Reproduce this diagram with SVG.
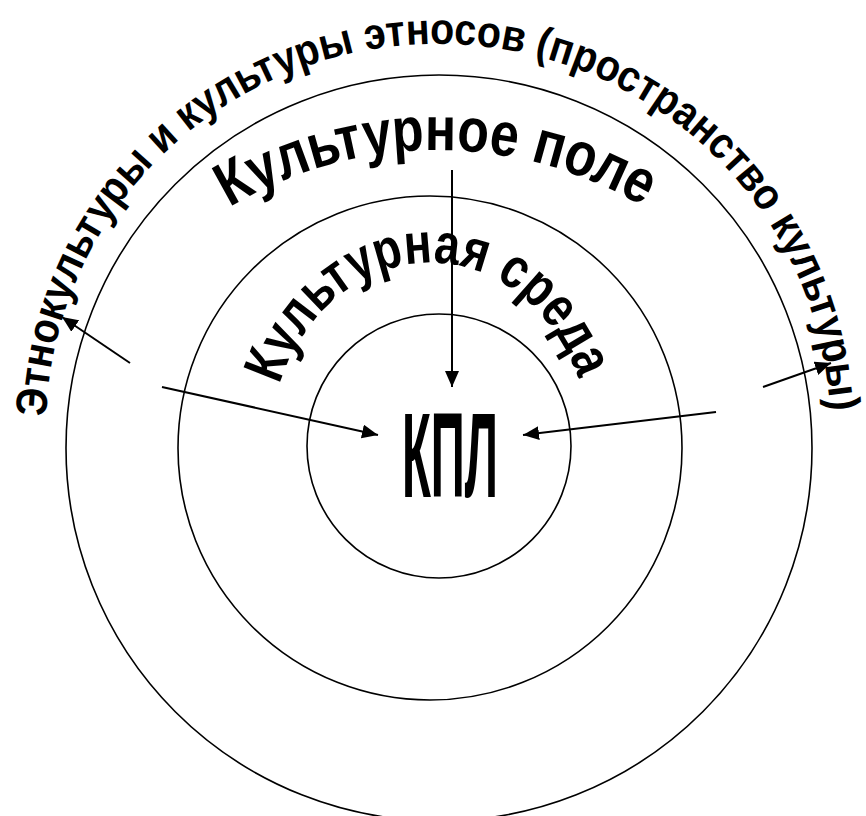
<svg xmlns="http://www.w3.org/2000/svg" width="866" height="816" viewBox="0 0 866 816">
<style>
.ring{fill:none;stroke:#000;stroke-width:1.6}
.lbl{font-family:"Liberation Sans",Arial,sans-serif;font-weight:bold;fill:#000}
.conn{stroke:#000;stroke-width:2;fill:none;marker-end:url(#ah)}
</style>
<defs>
<marker id="ah" viewBox="0 0 16 14" refX="16" refY="7" markerWidth="16" markerHeight="14" markerUnits="userSpaceOnUse" orient="auto">
<path d="M0,0 L16,7 L0,14 z" fill="#000"/>
</marker>
<path id="pOuter" d="M46.2,416.6 A392,385 0 0 1 829.8,416.6"/>
<path id="pField" d="M229.4,207.6 A403,403 0 0 1 644.6,207.6"/>
<path id="pEnv" d="M279.6,384.7 A160,185 0 0 1 580.4,384.7"/>
</defs>
<rect width="866" height="816" fill="#fff"/>
<g id="ethno">
<circle class="ring" cx="439" cy="448" r="373"/>
<text class="lbl" font-size="44"><textPath href="#pOuter" textLength="1190" lengthAdjust="spacingAndGlyphs">Этнокультуры и культуры этносов (пространство культуры)</textPath></text>
</g>
<g id="field">
<circle class="ring" cx="430" cy="448" r="252"/>
<text class="lbl" font-size="62"><textPath href="#pField" textLength="434" lengthAdjust="spacingAndGlyphs">Культурное поле</textPath></text>
</g>
<g id="environment">
<circle class="ring" cx="439" cy="446" r="132"/>
<text class="lbl" font-size="57"><textPath href="#pEnv" textLength="408" lengthAdjust="spacingAndGlyphs">Культурная среда</textPath></text>
</g>
<g id="kpl">
<text class="lbl" x="402" y="497" font-size="121" textLength="96" lengthAdjust="spacingAndGlyphs">КПЛ</text>
</g>
<g id="connectors">
<line class="conn" x1="452" y1="170" x2="452" y2="387"/>
<line class="conn" x1="130" y1="363" x2="62" y2="317"/>
<line class="conn" x1="162" y1="387" x2="378" y2="435"/>
<line class="conn" x1="763" y1="387" x2="831" y2="363"/>
<line class="conn" x1="716" y1="412" x2="523" y2="435"/>
</g>
</svg>
